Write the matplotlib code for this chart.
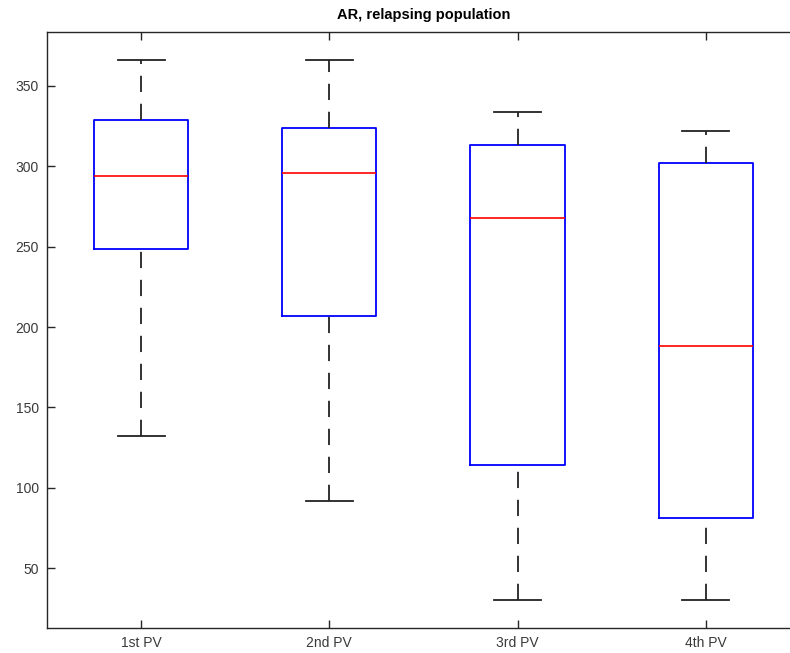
import matplotlib
matplotlib.use("Agg")
import matplotlib.pyplot as plt

plt.rcParams['font.family'] = ['Liberation Sans', 'DejaVu Sans']

# box summary per post-visit group
labels = ["1st PV", "2nd PV", "3rd PV", "4th PV"]
whislo = [132, 92, 30, 30]
q1 = [248.5, 207, 114, 81]
med = [294, 296, 268, 188]
q3 = [329, 324, 313, 302]
whishi = [366, 366, 334, 322]

stats = []
for i in range(len(labels)):
    stats.append(dict(label=labels[i], whislo=whislo[i], q1=q1[i], med=med[i],
                      q3=q3[i], whishi=whishi[i], fliers=[]))

fig = plt.figure(figsize=(7.9, 6.53), dpi=100)
ax = fig.add_axes([0.0595, 0.0383, 0.953, 0.9127])

art = ax.bxp(stats, widths=0.5, showfliers=False,
             boxprops=dict(color='#0000ff', linewidth=1.3),
             medianprops=dict(color='#ff0000', linewidth=1.2),
             whiskerprops=dict(color='#222222', linewidth=1.3, linestyle=(0, (9, 6.5))),
             capprops=dict(color='#222222', linewidth=1.3),
             capwidths=0.25)

# run every whisker bottom-to-top so the dash pattern starts at the lower end
for w in art['whiskers']:
    y = w.get_ydata()
    if y[0] > y[1]:
        w.set_ydata(y[::-1])

ax.set_xlim(0.5, 4.5)
ax.set_ylim(12.7, 383.6)
ax.set_yticks([50, 100, 150, 200, 250, 300, 350])
ax.tick_params(direction='in', length=6, width=1, colors='#262626',
               labelcolor='#3a3a3a', labelsize=10, top=True, right=True, pad=6)
for s in ax.spines.values():
    s.set_color('#262626')
    s.set_linewidth(1)

ax.set_title("AR, relapsing population", fontsize=10.5, fontweight='bold', pad=9)

fig.savefig("out.png", dpi=100)
